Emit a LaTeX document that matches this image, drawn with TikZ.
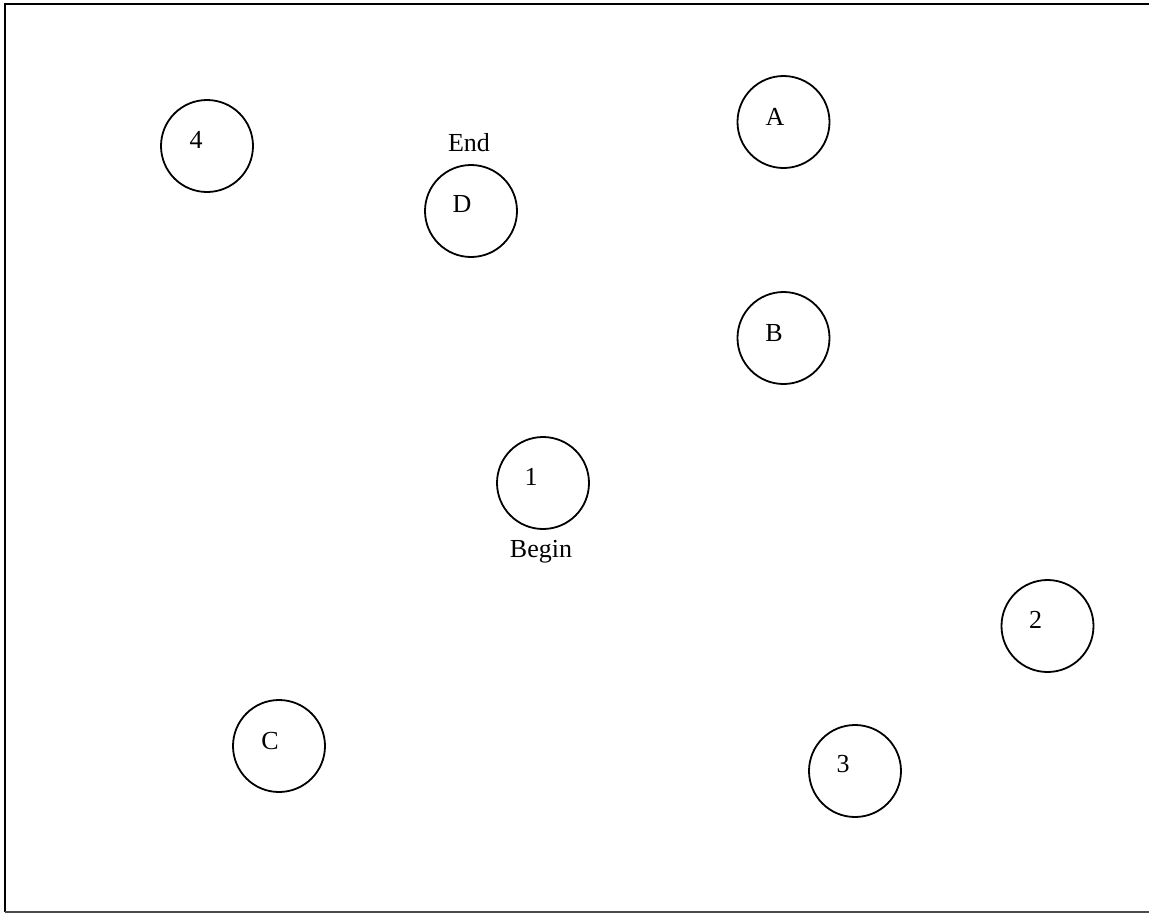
\documentclass[tikz,border=0pt]{standalone}
\usepackage{fontspec}
\setmainfont{Liberation Serif}
\begin{document}
\begin{tikzpicture}[x=1pt,y=-1pt,
  state/.style={draw=black,line width=1.8pt,circle,minimum size=92pt,inner sep=0pt},
  lbl/.style={inner sep=0pt,font=\fontsize{26}{30}\selectfont},
  frameline/.style={line width=2pt}]
\useasboundingbox (0,0) rectangle (1149,913);
\draw[frameline] (1149,4) -- (4.5,4) -- (4.5,912);
\draw[line width=1.5pt,black!70] (4.5,912) -- (1149,912);
% circles
\node[state] (n4) at (207,146) {};
\node[state] (nD) at (471,211) {};
\node[state] (nA) at (783.5,122) {};
\node[state] (nB) at (783.5,338) {};
\node[state] (n1) at (543,483) {};
\node[state] (n2) at (1047.5,626) {};
\node[state] (nC) at (279,746) {};
\node[state] (n3) at (855,771) {};
% labels
\node[lbl] (t4) at (196,140) {4};
\node[lbl] (tD) at (462,204) {D};
\node[lbl] (tA) at (775,117) {A};
\node[lbl] (tB) at (774,333) {B};
\node[lbl] (t1) at (531,477) {1};
\node[lbl] (t2) at (1035.5,620) {2};
\node[lbl] (tC) at (270,741) {C};
\node[lbl] (t3) at (843,764) {3};
\node[lbl] (tEnd) at (469,143) {End};
\node[lbl] (tBegin) at (541,552) {Begin};
\end{tikzpicture}
\end{document}
